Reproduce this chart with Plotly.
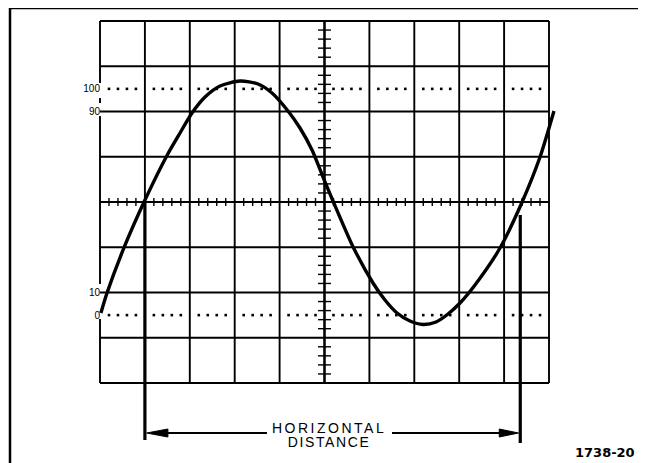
import plotly.graph_objects as go

# ---------------- data (graticule divisions: x 0..10, y 0..8) ----------------
curve_x = [0.02, 0.156, 0.55, 0.991, 1.486, 1.782, 2.049, 2.339, 2.673, 3.118, 3.519, 3.831,
           4.187, 4.454, 4.722, 5.011, 5.189, 5.635, 6.080, 6.347, 6.615, 6.904, 7.194,
           7.483, 7.751, 8.018, 8.352, 8.909, 9.392, 9.800, 10.111]
curve_y = [1.547, 1.989, 3.028, 4.022, 5.017, 5.525, 5.967, 6.320, 6.564, 6.674, 6.608, 6.409,
           6.011, 5.635, 5.149, 4.442, 4.022, 3.012, 2.210, 1.834, 1.547, 1.370, 1.293,
           1.348, 1.525, 1.768, 2.166, 2.983, 3.978, 4.994, 6.011]

level_divs = [1.5, 2.0, 6.0, 6.5]
level_labels = ["0", "10", "90", "100"]
marker_x = [1.0, 9.36]          # zero crossings measured for horizontal distance
n_xdiv, n_ydiv = 10, 8

# ---------------- layout helpers (pixel geometry of the page) ----------------
W, H = 646, 463
OFF = 8                       # default page margin around the plot div
X0, SX = 100, 44.9
Y0, SY = 383, 45.25
def dx(px): return (px - X0) / SX
def dy(py): return (Y0 - py) / SY

fig = go.Figure()

def seg_trace(xs, ys, width, color="black"):
    fig.add_trace(go.Scatter(x=xs, y=ys, mode="lines", hoverinfo="skip",
                             line=dict(color=color, width=width), showlegend=False))

# outer border (left, top, right)
seg_trace([dx(10), dx(10), dx(643), dx(643)], [dy(475), dy(8), dy(8), dy(475)], 2.5)

# graticule
gx, gy = [], []
for i in range(1, n_xdiv + 1):
    gx += [i, i, None]; gy += [0, n_ydiv, None]
for a, b in [(8, dy(83)), (dy(98), dy(103)), (dy(116), dy(284)), (dy(319), 0)]:
    gx += [0, 0, None]; gy += [a, b, None]
for j in range(n_ydiv + 1):
    gx += [0, n_xdiv, None]; gy += [j, j, None]
seg_trace(gx, gy, 1.9)

# center cross minor ticks
tx, ty = [], []
hy = 4 / SY
for k in range(1, n_xdiv * 5):
    if k % 5:
        x = k * 0.2
        tx += [x, x, None]; ty += [n_ydiv / 2 - hy, n_ydiv / 2 + hy, None]
for k in range(1, n_ydiv * 5):
    if k % 5:
        y = k * 0.2
        tx += [n_xdiv / 2 - 6.5 / SX, n_xdiv / 2 + 6.5 / SX, None]; ty += [y, y, None]
seg_trace(tx, ty, 1.4)
seg_trace([5, 5, None, 0, 10], [0, 8, None, 4, 4], 2.2)

# dotted 0% / 100% lines
dxs, dys = [], []
for lvl in (level_divs[0], level_divs[-1]):
    for i in range(n_xdiv):
        for k in range(1, 5):
            dxs.append(i + k * 0.2); dys.append(lvl)
fig.add_trace(go.Scatter(x=dxs, y=dys, mode="markers", hoverinfo="skip", showlegend=False,
                         marker=dict(color="black", size=2.6, symbol="square")))

# waveform
fig.add_trace(go.Scatter(x=curve_x, y=curve_y, mode="lines", hoverinfo="skip", showlegend=False,
                         line=dict(color="black", width=3.4, shape="spline", smoothing=0.7)))

# horizontal distance markers
seg_trace([marker_x[0], marker_x[0], None, marker_x[1], marker_x[1]],
          [dy(203), dy(440), None, dy(215), dy(443)], 3.2)

# arrow lines + heads
ya = dy(433)
seg_trace([marker_x[0] + dx(165) - dx(145), dx(267), None, dx(392), marker_x[1] - (dx(520) - dx(502))],
          [ya, ya, None, ya, ya], 2.0)
for tip, base in [(marker_x[0] + 0.04, marker_x[0] + dx(168) - dx(145)),
                  (marker_x[1] - 0.04, marker_x[1] - (dx(520) - dx(499)))]:
    fig.add_trace(go.Scatter(x=[tip, base, base, tip], y=[ya, ya + 4 / SY, ya - 4 / SY, ya],
                             mode="lines", fill="toself", fillcolor="black", hoverinfo="skip",
                             line=dict(color="black", width=1), showlegend=False))

fig.add_annotation(x=dx(329), y=dy(435), xref="x", yref="y", showarrow=False,
                   text='<span style="font-size:14px;letter-spacing:2.5px">HORIZONTAL</span><br>'
                        '<span style="font-size:14px;letter-spacing:1.6px">DISTANCE</span>',
                   font=dict(family="Liberation Sans", size=11, color="black"))
fig.add_annotation(x=dx(637), y=dy(452), xref="x", yref="y", showarrow=False, xanchor="right",
                   text="1738-20",
                   font=dict(family="DejaVu Sans", size=13, color="black", weight="bold"))

fig.update_layout(
    width=W, height=H, autosize=False,
    margin=dict(l=0, r=0, t=0, b=0, pad=0),
    paper_bgcolor="white", plot_bgcolor="white",
    xaxis=dict(range=[dx(OFF), dx(OFF + W)], visible=False, fixedrange=True),
    yaxis=dict(range=[dy(OFF + H), dy(OFF)], anchor="free", position=(X0 - OFF) / W,
               showgrid=False, zeroline=False, showline=False, ticks="",
               tickmode="array", tickvals=level_divs, ticktext=level_labels,
               tickfont=dict(family="Liberation Sans", size=10, color="black"),
               fixedrange=True),
)

fig.write_html("out.html")
